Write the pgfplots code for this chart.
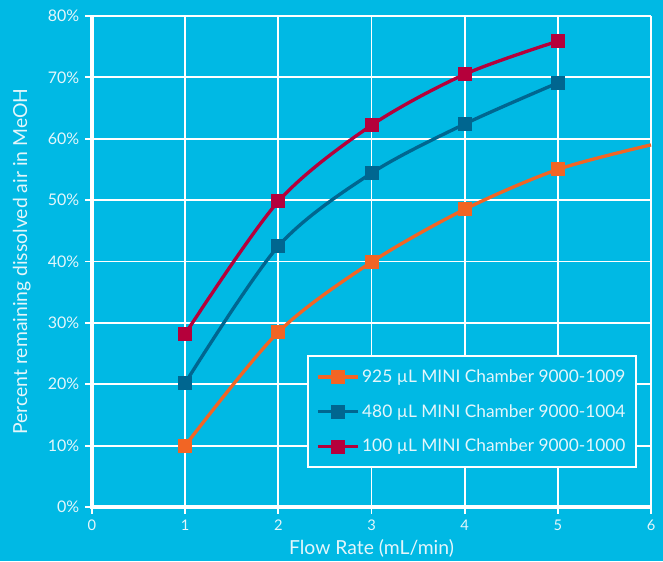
\documentclass[border=0pt]{standalone}
\usepackage{pgfplots}
\pgfplotsset{compat=1.18}
\usepackage{fontspec}
\setmainfont{Lato}
\definecolor{bg}{RGB}{0,185,228}
\definecolor{txt}{RGB}{228,246,251}
\definecolor{corange}{RGB}{242,101,36}
\definecolor{cteal}{RGB}{0,102,144}
\definecolor{cred}{RGB}{181,0,59}
\begin{document}
\begin{tikzpicture}
\fill[bg] (0,0) rectangle (497.25pt,420.75pt);
\begin{axis}[
  at={(69pt,40.5pt)}, anchor=south west,
  scale only axis, width=419.25pt, height=368.25pt,
  xmin=0, xmax=6, ymin=0, ymax=80,
  xtick={0,1,2,3,4,5,6}, ytick={0,10,...,80},
  yticklabel={\pgfmathprintnumber{\tick}\%},
  axis lines*=left,
  axis line style={white, line width=2.4pt, shorten <=-1.2pt},
  grid=major,
  major grid style={white, line width=1.4pt},
  tick style={white, line width=1.4pt},
  tick align=outside, major tick length=5pt,
  ticklabel style={txt},
  xticklabel style={font=\fontsize{11}{12}\selectfont, yshift=-1pt},
  yticklabel style={font=\fontsize{12}{13}\selectfont, xshift=-1pt},
  /pgf/number format/assume math mode=true,
  xlabel={Flow Rate (mL/min)},
  ylabel={Percent remaining dissolved air in MeOH},
  label style={txt, font=\fontsize{14.5}{16}\selectfont},
  xlabel style={yshift=0pt},
  ylabel style={yshift=6pt},
  clip=false,
  every axis plot/.append style={line width=2.5pt, smooth, mark=square*, mark size=4pt, mark options={solid}},
  legend style={at={(0.975,0.079)}, anchor=south east, fill=bg, draw=white, line width=1.4pt,
    font=\fontsize{13}{15}\selectfont, text=txt, row sep=11pt, inner xsep=6pt, inner ysep=8pt},
  legend cell align=left,
  legend image code/.code={\draw[#1, mark=none] (0pt,0pt) -- (30pt,0pt); \draw[#1, mark indices={}] plot coordinates {(15pt,0pt)};},
]
\addplot[corange, mark indices={1,2,3,4,5}] coordinates {(1,10.0) (2,28.5) (3,39.9) (4,48.5) (5,55.0) (6,59.0)};
\addlegendentry{925 µL MINI Chamber 9000-1009}
\addplot[cteal] coordinates {(1,20.2) (2,42.5) (3,54.4) (4,62.4) (5,69.1)};
\addlegendentry{480 µL MINI Chamber 9000-1004}
\addplot[cred] coordinates {(1,28.2) (2,49.8) (3,62.2) (4,70.5) (5,75.9)};
\addlegendentry{100 µL MINI Chamber 9000-1000}
\end{axis}
\pgfresetboundingbox
\useasboundingbox (0,0) rectangle (497.25pt,420.75pt);
\end{tikzpicture}
\end{document}
